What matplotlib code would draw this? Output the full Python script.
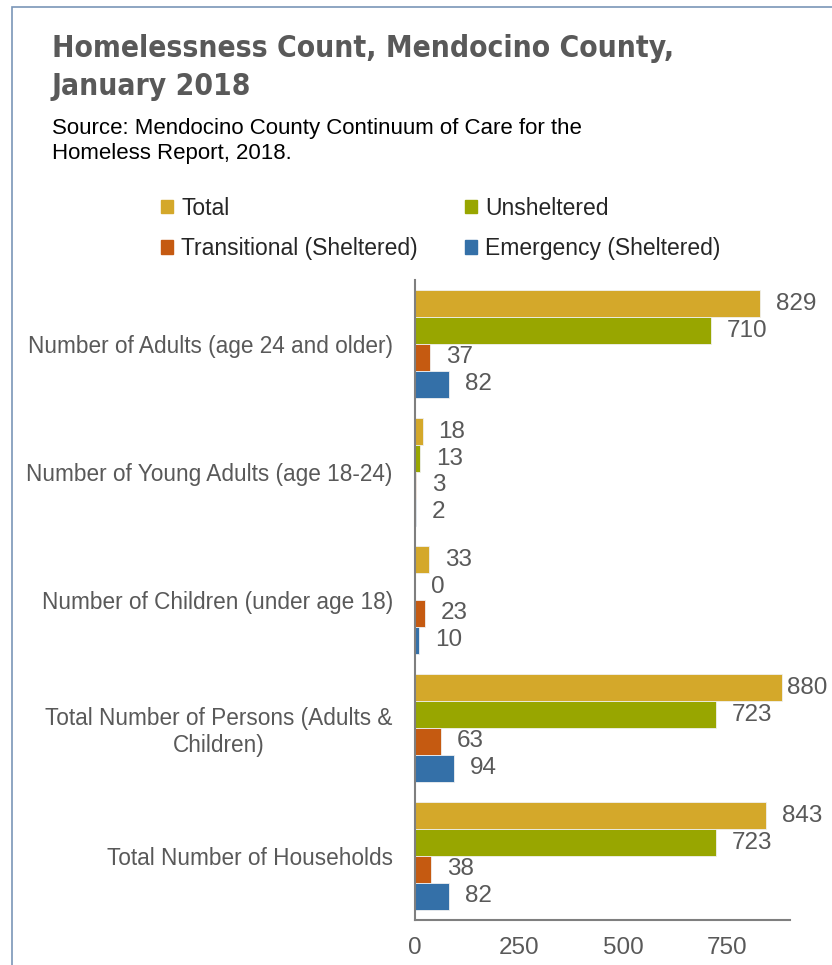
import matplotlib.pyplot as plt
import numpy as np
from matplotlib.patches import Patch, Rectangle

categories = ["Number of Adults (age 24 and older)",
              "Number of Young Adults (age 18-24)",
              "Number of Children (under age 18)",
              "Total Number of Persons (Adults &\nChildren)",
              "Total Number of Households"]
total = [829, 18, 33, 880, 843]
unsheltered = [710, 13, 0, 723, 723]
transitional = [37, 3, 23, 63, 38]
emergency = [82, 2, 10, 94, 82]
xticks = [0, 250, 500, 750]

series = [("Total", total, "#D4A82A"),
          ("Unsheltered", unsheltered, "#98A600"),
          ("Transitional (Sheltered)", transitional, "#C55A11"),
          ("Emergency (Sheltered)", emergency, "#3470A8")]

plt.rcParams['font.family'] = ['Liberation Sans', 'DejaVu Sans']
grey = "#595959"
fig = plt.figure(figsize=(8.32, 9.65), dpi=100)
ax = fig.add_axes([415/832, 1-920/965, 375/832, 640/965])

y = np.arange(len(categories))
h = 0.21
for i, (name, vals, col) in enumerate(series):
    pos = y - 1.5*h + i*h
    ax.barh(pos, vals, height=h, color=col, edgecolor="#f0f0f0", linewidth=0.6)
    for p, v in zip(pos, vals):
        ax.text(min(v + 38, 893), p, str(v), va="center", ha="left",
                fontsize=17.5, color=grey)

ax.set_ylim(len(categories) - 0.5, -0.5)
ax.set_xlim(0, 900)
ax.set_yticks(y)
ax.set_yticklabels(categories, fontsize=16.3, color=grey, ha="right",
                   multialignment="center")
ax.tick_params(axis="y", length=0, pad=16)
ax.set_xticks(xticks)
ax.set_xticklabels([str(t) for t in xticks], fontsize=17.5, color=grey)
ax.tick_params(axis="x", length=0, pad=12)
for s in ["top", "right"]:
    ax.spines[s].set_visible(False)
for s in ["left", "bottom"]:
    ax.spines[s].set_color("#7f7f7f")
    ax.spines[s].set_linewidth(1.5)

# legend (row-major order)
handles = [Patch(color=c, label=n) for n, v, c in series]
order = [0, 2, 1, 3]
fig.legend([handles[k] for k in order], [series[k][0] for k in order],
           ncol=2, loc="upper left", bbox_to_anchor=(140/832, 1-176/965),
           frameon=False, fontsize=16.5, handlelength=0.55, handleheight=0.55,
           handletextpad=0.35, columnspacing=2.05, labelspacing=0.75,
           labelcolor="#262626")

fig.text(52/832, 1-34/965, "Homelessness Count, Mendocino County,\nJanuary 2018",
         fontsize=21.5, fontweight="bold", color=grey, family="DejaVu Sans",
         fontstretch="condensed", va="top", ha="left", linespacing=1.4)
fig.text(52/832, 1-118/965, "Source: Mendocino County Continuum of Care for the\nHomeless Report, 2018.",
         fontsize=16, color="black", va="top", ha="left", linespacing=1.25)

fig.patches.append(Rectangle((12/832, -0.1), 1.2, 1 - 7/965 + 0.1,
                             transform=fig.transFigure, fill=False,
                             edgecolor="#7a96b8", linewidth=1.2))

fig.savefig("out.png", dpi=100)
